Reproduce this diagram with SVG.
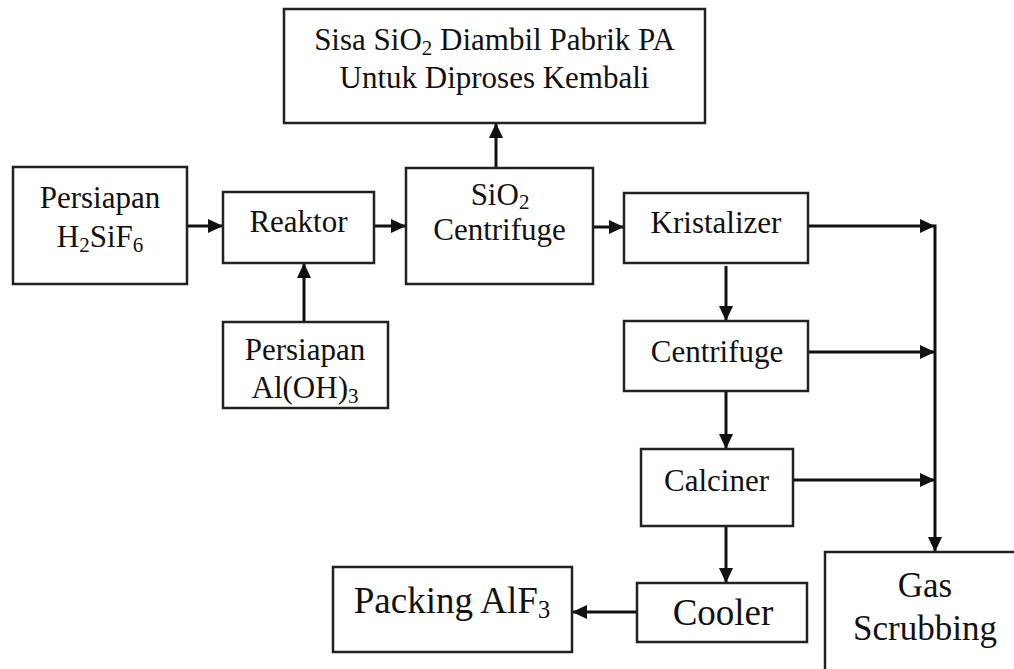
<svg xmlns="http://www.w3.org/2000/svg" width="1014" height="669" viewBox="0 0 1014 669">
<style>
.box{fill:#fff;stroke:#222;stroke-width:2.5}
.t{font-family:'Liberation Serif',Tinos,'Nimbus Roman','Nimbus Roman No9 L','Times New Roman',Times,'FreeSerif','Noto Serif','DejaVu Serif',serif;fill:#111;text-anchor:middle;font-size:31px}
.c{fill:none;stroke:#111;stroke-width:3}
.sub{font-size:21px}
</style>
<defs>
<marker id="ah" markerUnits="userSpaceOnUse" markerWidth="15" markerHeight="14" refX="14" refY="7" orient="auto">
<path d="M0,0 L15,7 L0,14 Z" fill="#111"/>
</marker>
</defs>
<rect width="1014" height="669" fill="#fff"/>
<g id="connectors">
<line class="c" x1="187" y1="226" x2="222" y2="226" marker-end="url(#ah)"/>
<line class="c" x1="374" y1="226" x2="405" y2="226" marker-end="url(#ah)"/>
<line class="c" x1="304" y1="322" x2="304" y2="264" marker-end="url(#ah)"/>
<line class="c" x1="496" y1="168" x2="496" y2="124" marker-end="url(#ah)"/>
<line class="c" x1="593" y1="227" x2="623" y2="227" marker-end="url(#ah)"/>
<line class="c" x1="808" y1="226" x2="934" y2="226" marker-end="url(#ah)"/>
<line class="c" x1="726" y1="266" x2="726" y2="320" marker-end="url(#ah)"/>
<line class="c" x1="808" y1="352" x2="934" y2="352" marker-end="url(#ah)"/>
<line class="c" x1="726" y1="391" x2="726" y2="448" marker-end="url(#ah)"/>
<line class="c" x1="793" y1="480" x2="934" y2="480" marker-end="url(#ah)"/>
<line class="c" x1="935" y1="224.5" x2="935" y2="551" marker-end="url(#ah)"/>
<line class="c" x1="726" y1="526" x2="726" y2="582" marker-end="url(#ah)"/>
<line class="c" x1="637" y1="612" x2="573" y2="612" marker-end="url(#ah)"/>
</g>
<g id="sisa">
<rect class="box" x="284" y="9" width="421" height="114"/>
<text class="t" x="494.5" y="50">Sisa SiO<tspan class="sub" dy="5">2</tspan><tspan dy="-5"> Diambil Pabrik PA</tspan></text>
<text class="t" x="494.5" y="88">Untuk Diproses Kembali</text>
</g>
<g id="persiapan-h2sif6">
<rect class="box" x="13" y="167" width="174" height="117"/>
<text class="t" x="100" y="208">Persiapan</text>
<text class="t" x="100" y="247">H<tspan class="sub" dy="5">2</tspan><tspan dy="-5">SiF</tspan><tspan class="sub" dy="5">6</tspan></text>
</g>
<g id="reaktor">
<rect class="box" x="223" y="192" width="151" height="71"/>
<text class="t" x="298.5" y="232">Reaktor</text>
</g>
<g id="persiapan-aloh3">
<rect class="box" x="223" y="322" width="165" height="86"/>
<text class="t" x="305" y="360">Persiapan</text>
<text class="t" x="305" y="398">Al(OH)<tspan class="sub" dy="5">3</tspan></text>
</g>
<g id="sio2-centrifuge">
<rect class="box" x="406" y="168" width="187" height="116"/>
<text class="t" x="500" y="205">SiO<tspan class="sub" dy="4">2</tspan></text>
<text class="t" x="499.5" y="240">Centrifuge</text>
</g>
<g id="kristalizer">
<rect class="box" x="624" y="193" width="184" height="70"/>
<text class="t" x="716" y="233">Kristalizer</text>
</g>
<g id="centrifuge">
<rect class="box" x="624" y="321" width="184" height="70"/>
<text class="t" x="717" y="362">Centrifuge</text>
</g>
<g id="calciner">
<rect class="box" x="641" y="449" width="152" height="77"/>
<text class="t" x="716.5" y="491">Calciner</text>
</g>
<g id="cooler">
<rect class="box" x="637" y="583" width="170" height="59"/>
<text class="t" x="723" y="625" style="font-size:37px">Cooler</text>
</g>
<g id="packing">
<rect class="box" x="333" y="567" width="239" height="85"/>
<text class="t" x="452" y="613" style="font-size:37px">Packing AlF<tspan dy="5" style="font-size:25px">3</tspan></text>
</g>
<g id="gas-scrubbing">
<rect class="box" x="825" y="552" width="210" height="140"/>
<text class="t" x="925" y="597" style="font-size:35px">Gas</text>
<text class="t" x="925" y="640" style="font-size:35px">Scrubbing</text>
</g>
</svg>
